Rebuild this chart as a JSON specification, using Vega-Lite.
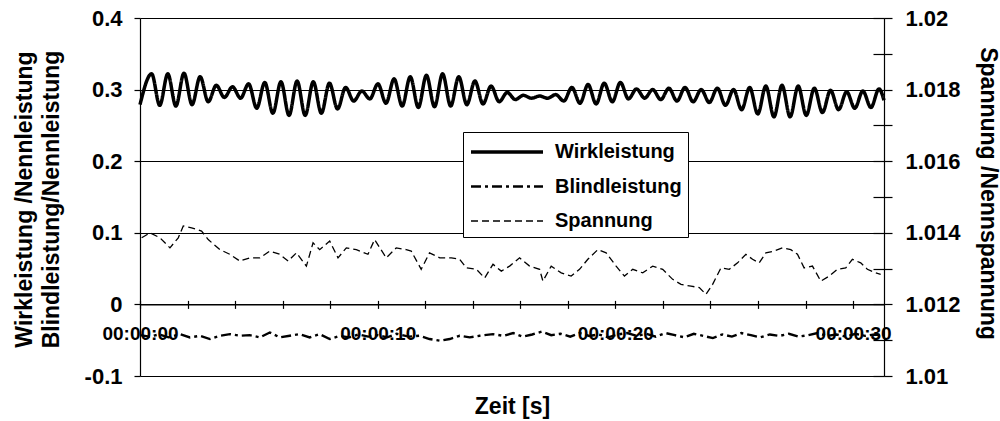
{
 "$schema": "https://vega.github.io/schema/vega-lite/v6.json",
 "width": 744,
 "height": 358,
 "autosize": {"type": "none"},
 "padding": {"left": 140, "top": 18, "right": 116, "bottom": 45},
 "background": "white",
 "config": {
  "view": {"stroke": null},
  "font": "Liberation Sans",
  "axis": {
   "labelFont": "Liberation Sans", "titleFont": "Liberation Sans",
   "labelFontWeight": "bold", "titleFontWeight": "bold",
   "labelColor": "black", "titleColor": "black",
   "domainColor": "black", "tickColor": "black", "gridColor": "black",
   "domainWidth": 1.2, "tickWidth": 1.2, "gridWidth": 1.2, "gridOpacity": 1,
   "labelFlush": false, "labelOverlap": false
  }
 },
 "datasets": {
  "wirk": [
   {"t":0,"v":0.279},{"t":0.49,"v":0.322},{"t":0.83,"v":0.278},{"t":1.17,"v":0.322},{"t":1.51,"v":0.277},
   {"t":1.85,"v":0.323},{"t":2.19,"v":0.279},{"t":2.53,"v":0.318},{"t":2.87,"v":0.283},{"t":3.21,"v":0.306},
   {"t":3.55,"v":0.289},{"t":3.89,"v":0.304},{"t":4.23,"v":0.288},{"t":4.57,"v":0.308},{"t":4.91,"v":0.274},
   {"t":5.25,"v":0.310},{"t":5.59,"v":0.267},{"t":5.93,"v":0.311},{"t":6.27,"v":0.264},{"t":6.61,"v":0.312},
   {"t":6.95,"v":0.264},{"t":7.29,"v":0.311},{"t":7.63,"v":0.267},{"t":7.97,"v":0.309},{"t":8.31,"v":0.273},
   {"t":8.65,"v":0.303},{"t":8.99,"v":0.284},{"t":9.33,"v":0.298},{"t":9.67,"v":0.287},{"t":10.01,"v":0.308},
   {"t":10.35,"v":0.281},{"t":10.69,"v":0.315},{"t":11.03,"v":0.277},{"t":11.37,"v":0.318},{"t":11.71,"v":0.275},
   {"t":12.05,"v":0.320},{"t":12.39,"v":0.276},{"t":12.73,"v":0.322},{"t":13.07,"v":0.277},{"t":13.41,"v":0.318},
   {"t":13.75,"v":0.279},{"t":14.09,"v":0.312},{"t":14.43,"v":0.280},{"t":14.77,"v":0.305},{"t":15.11,"v":0.283},
   {"t":15.45,"v":0.296},{"t":15.79,"v":0.286},{"t":16.13,"v":0.292},{"t":16.47,"v":0.288},{"t":16.81,"v":0.291},
   {"t":17.15,"v":0.288},{"t":17.49,"v":0.293},{"t":17.83,"v":0.284},{"t":18.17,"v":0.303},{"t":18.51,"v":0.281},
   {"t":18.85,"v":0.307},{"t":19.19,"v":0.280},{"t":19.53,"v":0.309},{"t":19.87,"v":0.283},{"t":20.21,"v":0.310},
   {"t":20.55,"v":0.287},{"t":20.89,"v":0.301},{"t":21.23,"v":0.288},{"t":21.57,"v":0.300},{"t":21.91,"v":0.286},
   {"t":22.25,"v":0.302},{"t":22.59,"v":0.284},{"t":22.93,"v":0.303},{"t":23.27,"v":0.283},{"t":23.61,"v":0.300},
   {"t":23.95,"v":0.282},{"t":24.29,"v":0.302},{"t":24.63,"v":0.278},{"t":24.97,"v":0.300},{"t":25.31,"v":0.272},
   {"t":25.65,"v":0.303},{"t":25.99,"v":0.266},{"t":26.33,"v":0.305},{"t":26.67,"v":0.262},{"t":27.01,"v":0.306},
   {"t":27.35,"v":0.262},{"t":27.69,"v":0.305},{"t":28.03,"v":0.264},{"t":28.37,"v":0.302},{"t":28.71,"v":0.268},
   {"t":29.05,"v":0.299},{"t":29.39,"v":0.272},{"t":29.73,"v":0.297},{"t":30.07,"v":0.274},{"t":30.41,"v":0.298},
   {"t":30.75,"v":0.275},{"t":31.09,"v":0.301},{"t":31.3,"v":0.285}
  ],
  "blind": [
   {"t":0,"v":-0.043},{"t":0.4,"v":-0.045},{"t":0.8,"v":-0.042},{"t":1.2,"v":-0.046},{"t":1.68,"v":-0.0415},
   {"t":2.1,"v":-0.0461},{"t":2.52,"v":-0.0438},{"t":2.94,"v":-0.0484},{"t":3.36,"v":-0.0438},{"t":3.78,"v":-0.0415},
   {"t":4.2,"v":-0.0438},{"t":4.62,"v":-0.0429},{"t":5.04,"v":-0.0461},{"t":5.46,"v":-0.0392},{"t":5.88,"v":-0.0461},
   {"t":6.3,"v":-0.0438},{"t":6.72,"v":-0.0415},{"t":7.14,"v":-0.0461},{"t":7.56,"v":-0.0415},{"t":7.98,"v":-0.0484},
   {"t":8.4,"v":-0.044},{"t":8.8,"v":-0.046},{"t":9.2,"v":-0.042},{"t":9.6,"v":-0.045},{"t":10.0,"v":-0.043},
   {"t":10.4,"v":-0.046},{"t":10.8,"v":-0.041},{"t":11.3,"v":-0.045},{"t":11.76,"v":-0.0438},{"t":12.18,"v":-0.0484},
   {"t":12.61,"v":-0.0507},{"t":13.03,"v":-0.0484},{"t":13.45,"v":-0.0438},{"t":13.87,"v":-0.0461},{"t":14.29,"v":-0.0438},
   {"t":14.85,"v":-0.0415},{"t":15.3,"v":-0.044},{"t":15.7,"v":-0.04},{"t":16.1,"v":-0.045},{"t":16.5,"v":-0.042},
   {"t":16.9,"v":-0.038},{"t":17.3,"v":-0.043},{"t":17.7,"v":-0.041},{"t":18.1,"v":-0.045},{"t":18.5,"v":-0.04},
   {"t":18.9,"v":-0.044},{"t":19.3,"v":-0.042},{"t":19.7,"v":-0.046},{"t":20.1,"v":-0.042},{"t":20.5,"v":-0.04},
   {"t":20.9,"v":-0.044},{"t":21.3,"v":-0.041},{"t":21.7,"v":-0.045},{"t":22.1,"v":-0.04},{"t":22.5,"v":-0.043},
   {"t":22.9,"v":-0.046},{"t":23.3,"v":-0.041},{"t":23.7,"v":-0.044},{"t":24.1,"v":-0.047},{"t":24.5,"v":-0.042},
   {"t":24.9,"v":-0.045},{"t":25.3,"v":-0.04},{"t":25.7,"v":-0.043},{"t":26.1,"v":-0.046},{"t":26.5,"v":-0.042},
   {"t":26.9,"v":-0.044},{"t":27.3,"v":-0.041},{"t":27.7,"v":-0.045},{"t":28.1,"v":-0.043},{"t":28.5,"v":-0.04},
   {"t":28.9,"v":-0.044},{"t":29.3,"v":-0.042},{"t":29.7,"v":-0.045},{"t":30.1,"v":-0.041},{"t":30.5,"v":-0.044},
   {"t":30.9,"v":-0.042},{"t":31.3,"v":-0.043}
  ],
  "span": [
   {"t":0.07,"v":1.01386},{"t":0.42,"v":1.014},{"t":0.84,"v":1.01386},{"t":1.26,"v":1.01358},{"t":1.61,"v":1.01386},
   {"t":1.82,"v":1.01419},{"t":2.17,"v":1.01414},{"t":2.59,"v":1.01405},{"t":2.87,"v":1.01381},{"t":3.36,"v":1.01353},
   {"t":3.78,"v":1.0134},{"t":4.2,"v":1.01321},{"t":4.62,"v":1.0133},{"t":5.04,"v":1.0133},{"t":5.46,"v":1.01349},
   {"t":5.88,"v":1.0134},{"t":6.23,"v":1.01321},{"t":6.58,"v":1.01344},{"t":7.0,"v":1.01307},{"t":7.28,"v":1.01372},
   {"t":7.56,"v":1.01353},{"t":7.98,"v":1.01377},{"t":8.33,"v":1.0133},{"t":8.68,"v":1.01358},{"t":9.1,"v":1.01353},
   {"t":9.59,"v":1.0134},{"t":9.87,"v":1.01381},{"t":10.36,"v":1.0133},{"t":10.78,"v":1.01358},{"t":11.2,"v":1.01353},
   {"t":11.41,"v":1.01349},{"t":11.83,"v":1.01298},{"t":12.18,"v":1.01344},{"t":12.61,"v":1.0133},{"t":13.1,"v":1.0133},
   {"t":13.45,"v":1.01326},{"t":13.73,"v":1.01302},{"t":14.15,"v":1.01298},{"t":14.5,"v":1.01274},{"t":14.85,"v":1.01312},
   {"t":15.2,"v":1.01293},{"t":15.55,"v":1.01307},{"t":15.97,"v":1.0133},{"t":16.39,"v":1.01307},{"t":16.81,"v":1.01298},
   {"t":16.95,"v":1.01265},{"t":17.3,"v":1.01307},{"t":17.72,"v":1.01288},{"t":18.14,"v":1.01279},{"t":18.49,"v":1.01298},
   {"t":18.84,"v":1.01326},{"t":19.26,"v":1.01353},{"t":19.61,"v":1.01344},{"t":20.03,"v":1.01307},{"t":20.38,"v":1.01279},
   {"t":20.73,"v":1.01298},{"t":21.15,"v":1.01288},{"t":21.57,"v":1.01307},{"t":21.99,"v":1.01298},{"t":22.41,"v":1.0127},
   {"t":22.76,"v":1.01256},{"t":23.18,"v":1.01251},{"t":23.53,"v":1.01247},{"t":23.81,"v":1.01228},{"t":24.09,"v":1.01256},
   {"t":24.44,"v":1.01302},{"t":24.79,"v":1.01298},{"t":25.14,"v":1.01316},{"t":25.49,"v":1.0134},{"t":25.77,"v":1.01326},
   {"t":26.05,"v":1.01316},{"t":26.33,"v":1.01344},{"t":26.68,"v":1.01349},{"t":27.03,"v":1.01358},{"t":27.38,"v":1.01353},
   {"t":27.66,"v":1.0134},{"t":27.94,"v":1.01302},{"t":28.29,"v":1.01307},{"t":28.64,"v":1.01265},{"t":28.99,"v":1.01279},
   {"t":29.34,"v":1.01298},{"t":29.69,"v":1.01302},{"t":29.97,"v":1.01326},{"t":30.32,"v":1.01316},{"t":30.6,"v":1.01298},
   {"t":30.95,"v":1.01288},{"t":31.16,"v":1.01284}
  ]
 },
 "layer": [
  {
   "data": {"name": "wirk"},
   "mark": {"type": "line", "color": "black", "interpolate": "monotone"},
   "encoding": {
    "x": {"field": "t", "type": "quantitative",
     "scale": {"domain": [0, 31.3], "nice": false, "zero": false},
     "axis": {"orient": "bottom", "offset": -71.6, "values": [0,2,4,6,8,10,12,14,16,18,20,22,24,26,28,30],
      "tickSize": 4, "labelFontSize": 19, "labelPadding": 16,
      "labelExpr": "datum.value % 10 == 0 ? '00:00:' + (datum.value < 10 ? '0' : '') + datum.value : ''",
      "grid": false, "title": "Zeit [s]", "titleFontSize": 23, "titleX": 372, "titleY": 91}},
    "y": {"field": "v", "type": "quantitative",
     "scale": {"domain": [-0.1, 0.4], "nice": false, "zero": false},
     "axis": {"orient": "left", "values": [-0.1,0,0.1,0.2,0.3,0.4], "tickSize": 6, "labelPadding": 12, "labelFontSize": 22,
      "labelExpr": "datum.value < 0 ? '-' + format(-datum.value, '.1f') : (datum.value == 0 ? '0' : format(datum.value, '.1f'))",
      "grid": true,
      "title": ["Wirkleistung /Nennleistung", "Blindleistung/Nennleistung"],
      "titleFontSize": 23, "titleLineHeight": 27, "titleAngle": -90, "titleX": -116, "titleY": 181,
      "titleAlign": "center", "titleBaseline": "middle"}},
    "strokeDash": {"datum": "Wirkleistung", "type": "nominal",
     "scale": {"domain": ["Wirkleistung", "Blindleistung", "Spannung"], "range": [[1,0],[10,4,3,4],[7,4]]},
     "legend": {"title": null, "orient": "none", "legendX": 323, "legendY": 114, "direction": "vertical",
      "strokeColor": "black", "fillColor": "white", "padding": 6,
      "symbolType": "M-1,0H5", "symbolSize": 576, "symbolStrokeColor": "black", "symbolFillColor": "transparent",
      "labelFont": "Liberation Sans", "labelFontSize": 20, "labelFontWeight": "bold", "labelColor": "black",
      "labelOffset": 58, "rowPadding": 11}},
    "strokeWidth": {"datum": "Wirkleistung", "type": "nominal",
     "scale": {"domain": ["Wirkleistung", "Blindleistung", "Spannung"], "range": [3.5, 1.3, 1.3]}}
   }
  },
  {
   "data": {"name": "blind"},
   "mark": {"type": "line", "color": "black"},
   "encoding": {
    "x": {"field": "t", "type": "quantitative",
     "scale": {"domain": [0, 31.3], "nice": false, "zero": false},
     "axis": {"orient": "top", "offset": -286.4, "values": [0,2,4,6,8,10,12,14,16,18,20,22,24,26,28,30],
      "tickSize": 4, "labels": false, "domain": false, "grid": false, "title": null}},
    "y": {"field": "v", "type": "quantitative",
     "scale": {"domain": [-0.1, 0.4], "nice": false, "zero": false},
     "axis": {"orient": "left", "offset": -744, "values": [-0.1,-0.05,0,0.05,0.1,0.15,0.2,0.25,0.3,0.35,0.4],
      "tickSize": 11, "labels": false, "domain": false, "grid": false, "title": null}},
    "strokeDash": {"datum": "Blindleistung", "type": "nominal"},
    "strokeWidth": {"datum": "Blindleistung", "type": "nominal"}
   }
  },
  {
   "data": {"name": "span"},
   "mark": {"type": "line", "color": "black"},
   "encoding": {
    "x": {"field": "t", "type": "quantitative",
     "scale": {"domain": [0, 31.3], "nice": false, "zero": false}, "axis": null},
    "y": {"field": "v", "type": "quantitative",
     "scale": {"domain": [1.01, 1.02], "nice": false, "zero": false},
     "axis": {"orient": "right", "values": [1.01,1.011,1.012,1.013,1.014,1.015,1.016,1.017,1.018,1.019,1.02],
      "tickSize": 8, "labelPadding": 13, "labelFontSize": 22,
      "labelExpr": "round(datum.value * 1000) % 2 == 0 ? format(datum.value, '.3~f') : ''",
      "grid": false, "title": "Spannung /Nennspannung", "titleFontSize": 23, "titleAngle": 90,
      "titleX": 103, "titleY": 175, "titleAlign": "center", "titleBaseline": "middle"}},
    "strokeDash": {"datum": "Spannung", "type": "nominal"},
    "strokeWidth": {"datum": "Spannung", "type": "nominal"}
   }
  }
 ],
 "resolve": {"scale": {"y": "independent"}, "axis": {"x": "independent", "y": "independent"}}
}
